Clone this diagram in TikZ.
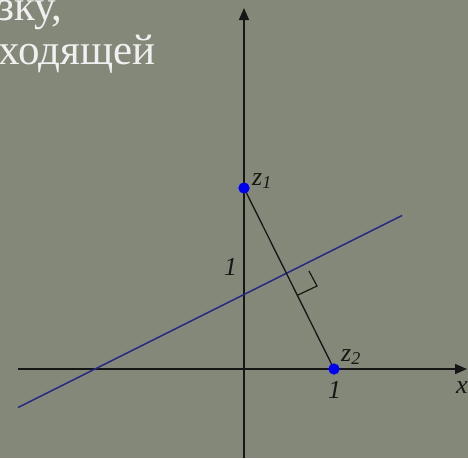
\documentclass[tikz,border=0pt]{standalone}
\usepackage{fontspec}
\setmainfont{Liberation Serif}
\usetikzlibrary{arrows.meta, positioning}
\definecolor{slatebg}{RGB}{132,136,121}
\definecolor{axisgray}{RGB}{22,22,22}
\definecolor{bisblue}{RGB}{38,38,135}
\definecolor{ptblue}{RGB}{0,0,240}
\tikzset{
  axis/.style={draw=axisgray, line width=1.5pt, -{Triangle[length=12pt,width=10pt]}},
  seg/.style={draw=axisgray, line width=1.3pt},
  bisline/.style={draw=bisblue, line width=1.5pt},
  lbl/.style={font=\fontsize{26}{26}\selectfont\itshape, text=axisgray, inner sep=0pt, anchor=base west},
  dot/.style={circle, fill=ptblue, minimum size=11pt, inner sep=0pt},
  big/.style={font=\fontsize{43}{47}\selectfont, text=white!94!black, anchor=base west, inner sep=0pt},
}
\newcommand{\sub}[1]{\raisebox{-3pt}{\fontsize{18}{18}\selectfont #1}}

\begin{document}
\begin{tikzpicture}[x=1pt,y=-1pt]
  \fill[slatebg] (0,0) rectangle (468,458);
  \useasboundingbox (0,0) rectangle (468,458);
  \clip (0,0) rectangle (468,458);
  % text fragment
  \node[big] (t1) at (-3,20) {зку,};
  \node[big] (t2) at (-2,64) {ходящей};
  % axes
  \coordinate (xl) at (18,369);
  \coordinate (xr) at (467,369);
  \coordinate (yb) at (244,458);
  \coordinate (yt) at (244,8);
  \draw[axis] (xl) -- (xr);
  \draw[axis] (yb) -- (yt);
  % bisector
  \coordinate (bl) at (18,407.5);
  \coordinate (br) at (402,215.5);
  \draw[bisline] (bl) -- (br);
  % points and segment
  \node[dot] (z1) at (244,188) {};
  \node[dot] (z2) at (334,369) {};
  \draw[seg] (z1.center) -- (z2.center);
  % right angle mark
  \coordinate (ra) at (298,295);
  \coordinate (rb) at (317,286);
  \coordinate (rc) at (309,271);
  \draw[axisgray, line width=1.2pt] (ra) -- (rb) -- (rc);
  \node[dot] at (z1) {};
  \node[dot] at (z2) {};
  % labels
  \node[lbl] (lz1) at (252,185) {z\sub{1}};
  \node[lbl] (lz2) at (341,361) {z\sub{2}};
  \node[lbl] (lx1) at (328,398) {1};
  \node[lbl] (ly1) at (224,275) {1};
  \node[lbl] (lx) at (456,393) {x};
\end{tikzpicture}
\end{document}
